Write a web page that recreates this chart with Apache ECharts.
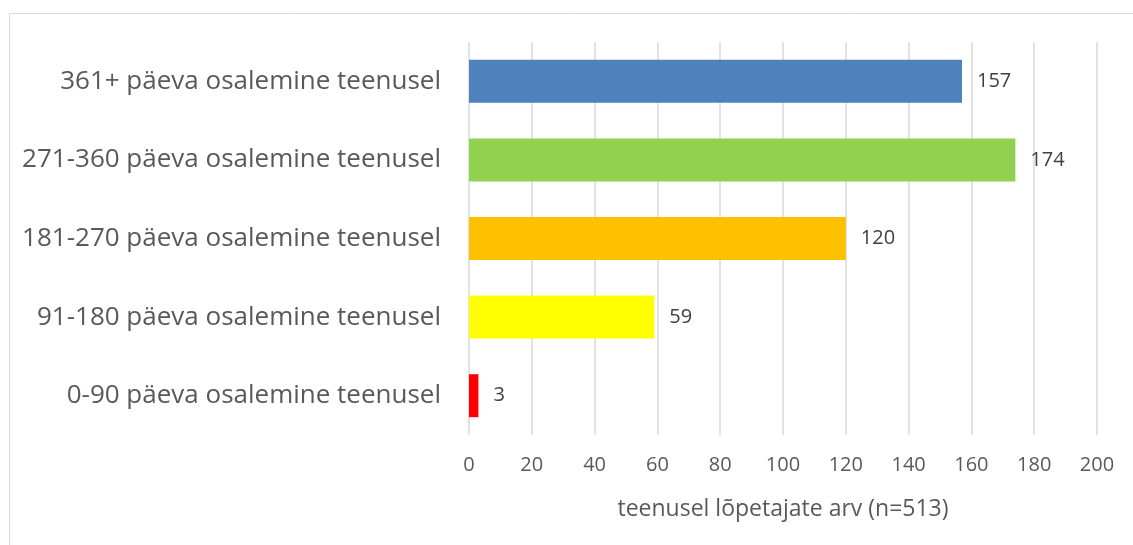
<!DOCTYPE html>
<html>
<head>
<meta charset="utf-8">
<script src="https://cdn.jsdelivr.net/npm/echarts@6/dist/echarts.min.js"></script>
<style>
  html, body { margin: 0; padding: 0; background: #fff; }
  #chart { width: 1133px; height: 545px; }
</style>
</head>
<body>
<div id="chart"></div>
<script>
// bottom to top, like the picture
var categories = [
    '0-90 päeva osalemine teenusel',
    '91-180 päeva osalemine teenusel',
    '181-270 päeva osalemine teenusel',
    '271-360 päeva osalemine teenusel',
    '361+ päeva osalemine teenusel'
]
var values = [3, 59, 120, 174, 157]
var barColors = ['#ff0000', '#ffff00', '#ffc000', '#92d050', '#4f81bd']
var axisTitle = 'teenusel lõpetajate arv (n=513)'

var myChart = echarts.init(document.getElementById('chart'))

var data = []
for (var i = 0; i < values.length; i++) {
    data.push({ value: values[i], itemStyle: { color: barColors[i] } })
}

var option = {
    backgroundColor: '#fff',
    animation: false,
    textStyle: { fontFamily: 'Open Sans' },
    graphic: [{
        type: 'rect',
        shape: { x: 9.5, y: 13.5, width: 1140, height: 560 },
        style: { fill: 'none', stroke: '#d9d9d9', lineWidth: 1 },
        silent: true
    }],
    grid: { left: 469, right: 36, top: 42, bottom: 110, containLabel: false },
    xAxis: {
        type: 'value',
        min: 0, max: 200, interval: 20,
        name: axisTitle,
        nameLocation: 'middle',
        nameGap: 63,
        nameTextStyle: { color: '#595959', fontSize: 23 },
        axisLine: { show: false },
        axisTick: { show: false },
        axisLabel: { color: '#595959', fontSize: 20, margin: 20 },
        splitLine: { lineStyle: { color: '#d9d9d9', width: 1.5 } }
    },
    yAxis: {
        type: 'category',
        data: categories,
        axisLine: { show: false },
        axisTick: { show: false },
        axisLabel: { color: '#595959', fontSize: 26, margin: 28 }
    },
    series: [{
        type: 'bar',
        data: data,
        barWidth: 43,
        label: {
            show: true,
            position: 'right',
            distance: 15,
            color: '#404040',
            fontSize: 20
        }
    }]
}

myChart.setOption(option)
</script>
</body>
</html>
